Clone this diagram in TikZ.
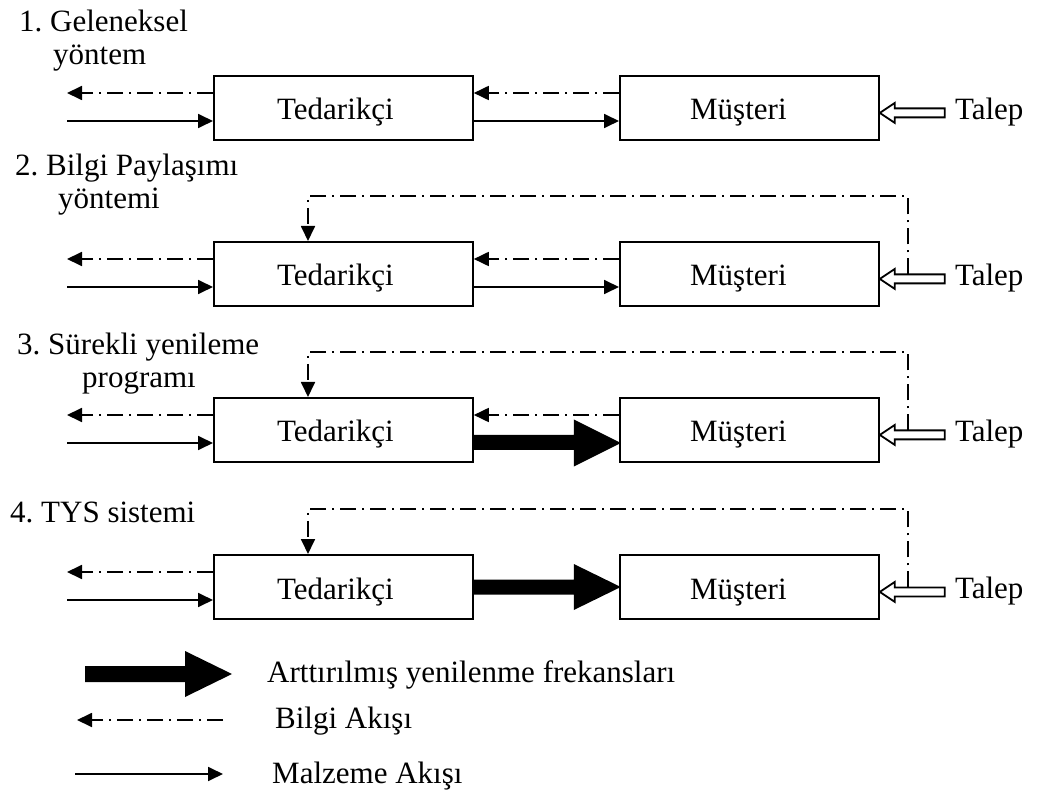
\documentclass[tikz,border=0pt]{standalone}
\usepackage{fontspec}
\setmainfont{Liberation Serif}
\usetikzlibrary{arrows.meta,calc}
\frenchspacing

\begin{document}
\begin{tikzpicture}[x=1pt,y=-1pt,
  box/.style={draw,line width=1.8pt,minimum width=259pt,minimum height=64pt,inner sep=0pt,anchor=north west},
  lbl/.style={font=\fontsize{31}{37}\selectfont,anchor=base west,inner sep=0pt},
  info/.style={line width=1.8pt,dash pattern=on 16pt off 6pt on 2pt off 6pt,-{Triangle[length=15pt,width=14pt]}},
  matl/.style={line width=1.8pt,-{Triangle[length=15pt,width=14pt]}},
  demand/.style={draw,line width=1.8pt,fill=white,line join=miter},
  bigarrow/.style={fill=black}
]
\useasboundingbox (0,0) rectangle (1037,794);

% method titles
\node[lbl] (h1) at (19,32) {1. Geleneksel};
\node[lbl] (h1b) at (53,65) {yöntem};
\node[lbl] (h2) at (15,176) {2. Bilgi Paylaşımı};
\node[lbl] (h2b) at (58,209) {yöntemi};
\node[lbl] (h3) at (17,355) {3. Sürekli yenileme};
\node[lbl] (h3b) at (82,388) {programı};
\node[lbl] (h4) at (10,522) {4. TYS sistemi};

% supplier / customer boxes, demand arrows and outer flows
\foreach \i/\top in {1/75,2/241,3/397,4/554} {
  \node[box] (t\i) at (213,\top) {};
  \node[box] (m\i) at (619,\top) {};
  \node[lbl,anchor=base] (tl\i) at ($(t\i.north)+(-8,45)$) {Tedarikçi};
  \node[lbl,anchor=base] (ml\i) at ($(m\i.north)+(-11,45)$) {Müşteri};
  % hollow demand arrow
  \coordinate (d\i) at ($(m\i.east)+(0,5)$);
  \draw[demand] (d\i) -- ++(15,-10) -- ++(0,5.5) -- ++(50,0) -- ++(0,9)
        -- ++(-50,0) -- ++(0,5.5) -- cycle;
  \node[lbl] (talep\i) at ($(d\i)+(75,7)$) {Talep};
  % outgoing information, incoming material
  \coordinate (il\i) at ($(t\i.north west)+(-146,18)$);
  \coordinate (ml\i s) at ($(t\i.north west)+(-146,46)$);
  \draw[info] ($(t\i.north west)+(0,18)$) -- (il\i);
  \draw[matl] (ml\i s) -- ($(t\i.north west)+(0,46)$);
}

% information and material between customer and supplier
\foreach \i in {1,2} {
  \draw[info] ($(m\i.north west)+(0,18)$) -- ($(t\i.north east)+(0,18)$);
  \draw[matl] ($(t\i.north east)+(0,46)$) -- ($(m\i.north west)+(0,46)$);
}
\draw[info] ($(m3.north west)+(0,18)$) -- ($(t3.north east)+(0,18)$);

% demand information passed straight to the supplier
\foreach \i in {2,3,4} {
  \coordinate (q\i) at ($(d\i)+(28,-4.5)$);
  \draw[info] (q\i) |- ($(t\i.north west)+(95,-45)$) -- ($(t\i.north west)+(95,0)$);
}

% increased replenishment frequency
\fill[bigarrow] ($(t3.north east)+(0,38)$) -- ++(100,0) -- ++(0,-15.5) -- ++(47,23.5)
      -- ++(-47,23.5) -- ++(0,-16.5) -- ++(-100,0) -- cycle;
\fill[bigarrow] ($(t4.north east)+(0,25.5)$) -- ++(100,0) -- ++(0,-15.5) -- ++(47,23)
      -- ++(-47,23) -- ++(0,-15.5) -- ++(-100,0) -- cycle;

% legend
\coordinate (lg1) at (85,666);
\fill[bigarrow] (lg1) -- ++(100,0) -- ++(0,-15) -- ++(47,23) -- ++(-47,23)
      -- ++(0,-15) -- ++(-100,0) -- cycle;
\node[lbl] (lt1) at (267,682) {Arttırılmış yenilenme frekansları};
\coordinate (lg2a) at (223,720);
\coordinate (lg2b) at (77,720);
\draw[info] (lg2a) -- (lg2b);
\node[lbl] (lt2) at (275,728) {Bilgi Akışı};
\coordinate (lg3a) at (75,774);
\coordinate (lg3b) at (223,774);
\draw[matl] (lg3a) -- (lg3b);
\node[lbl] (lt3) at (272,783) {Malzeme Akışı};
\end{tikzpicture}
\end{document}
